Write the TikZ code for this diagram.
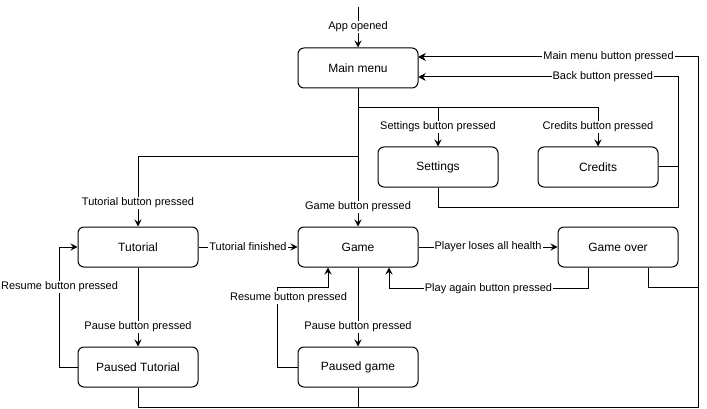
\documentclass[tikz,border=0pt]{standalone}
\usepackage{fontspec}
\setmainfont{Liberation Sans}
\usetikzlibrary{arrows.meta,positioning}
\begin{document}
\begin{tikzpicture}[x=1pt,y=-1pt,
  state/.style={draw,rounded corners=6pt,minimum width=120pt,minimum height=40pt,line width=1pt,font=\fontsize{12}{14}\selectfont,inner sep=0pt},
  lbl/.style={fill=white,inner sep=1pt,font=\fontsize{11}{13}\selectfont},
  arr/.style={line width=1pt,-{Stealth[length=7pt,width=7pt,inset=2.5pt]}},
  ln/.style={line width=1pt}]
\useasboundingbox (0,0) rectangle (707,409);
\node[state] (mm) at (358,68) {Main menu};
\node[state] (set) at (438,167) {Settings};
\node[state] (cr) at (598,167) {Credits};
\node[state] (tut) at (138,247) {Tutorial};
\node[state] (game) at (358,247) {Game};
\node[state] (go) at (618,247) {Game over};
\node[state] (pt) at (138,367) {Paused Tutorial};
\node[state] (pg) at (358,367) {Paused game};
\coordinate (start) at (358,7);
\coordinate (railA) at (698,57);
\coordinate (railB) at (678,77);
% entry
\draw[arr] (start) -- node[lbl,pos=0.49]{App opened} (mm);
% from main menu
\draw[arr] (mm.south) -- ++(0,19) -| node[lbl,pos=0.75]{Settings button pressed} (set.north);
\draw[arr] (mm.south) -- ++(0,19) -| node[lbl,pos=0.75]{Credits button pressed} (cr.north);
\draw[arr] (mm.south) -- ++(0,68) -| node[lbl,pos=0.83]{Tutorial button pressed} (tut.north);
\draw[arr] (mm.south) -- node[lbl,pos=0.856]{Game button pressed} (game.north);
% tutorial / game
\draw[arr] (tut) -- node[lbl]{Tutorial finished} (game);
\draw[arr] (game) -- node[lbl]{Player loses all health} (go);
\draw[arr] ([xshift=-30pt]go.south) -- ++(0,21) -| node[lbl,pos=0.25]{Play again button pressed} ([xshift=31pt]game.south);
\draw[arr] (tut) -- node[lbl,pos=0.75]{Pause button pressed} (pt);
\draw[arr] (game) -- node[lbl,pos=0.75]{Pause button pressed} (pg);
\draw[arr] (pt.west) -- ++(-18,0) |- node[lbl,pos=0.333]{Resume button pressed} (tut.west);
\draw[arr] (pg.west) -- ++(-20,0) |- node[lbl,pos=0.4375,xshift=11pt]{Resume button pressed} ([xshift=-30pt,yshift=-20pt]game.south) -- ([xshift=-30pt]game.south);
% back to main menu
\draw[arr] (cr.east) -| (railB) -- ([yshift=-9pt]mm.east);
\draw[arr] (set.south) -- ++(0,20) -| (railB) -- node[lbl,pos=0.29]{Back button pressed} ([yshift=-9pt]mm.east);
\draw[arr] (pt.south) -- ++(0,20) -| (railA) -- ([yshift=11pt]mm.east);
\draw[arr] (pg.south) -- ++(0,20) -| (railA) -- ([yshift=11pt]mm.east);
\draw[arr] ([xshift=30pt]go.south) -- ++(0,20) -| (railA) -- node[lbl,pos=0.32]{Main menu button pressed} ([yshift=11pt]mm.east);
\end{tikzpicture}
\end{document}
